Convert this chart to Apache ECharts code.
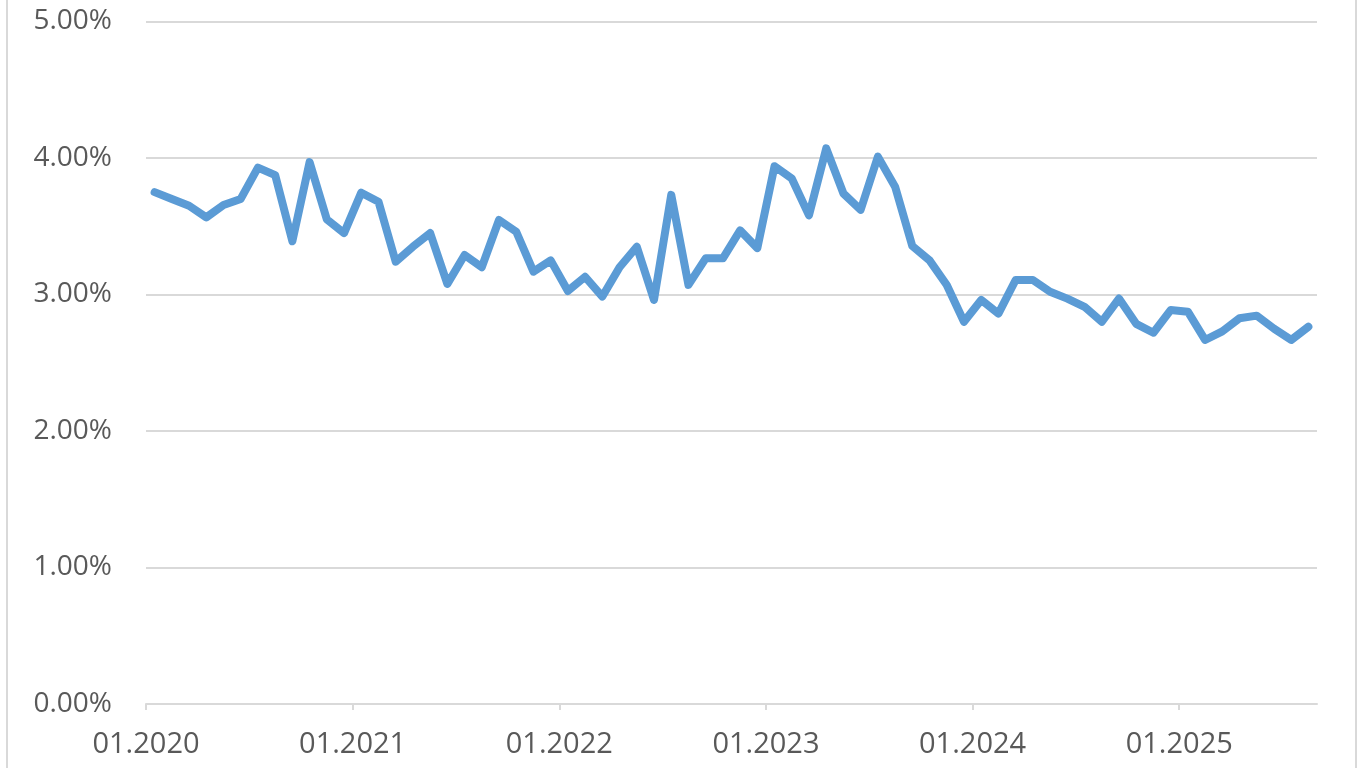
<!DOCTYPE html>
<html>
<head>
<meta charset="utf-8">
<script src="https://cdn.jsdelivr.net/npm/echarts@6/dist/echarts.min.js"></script>
<style>
html,body{margin:0;padding:0;background:#fff;width:1366px;height:768px;overflow:hidden;}
#frame{position:absolute;left:6px;top:-10px;width:1351px;height:800px;border-left:2px solid #d9d9d9;border-right:2px solid #d9d9d9;box-sizing:border-box;}
#chart{position:absolute;left:0;top:0;width:1366px;height:768px;}
</style>
</head>
<body>
<div id="frame"></div>
<div id="chart"></div>
<script>
// Month labels 01.2020 .. 08.2025
const years = [2020, 2021, 2022, 2023, 2024, 2025];
const categories = [];
years.forEach(y => { for (let m = 1; m <= 12; m++) { if (y === 2025 && m > 8) break; categories.push((m < 10 ? '0' + m : '' + m) + '.' + y); } });

// Values in percent
const values = [
  3.75, 3.70, 3.65, 3.565, 3.655, 3.70, 3.93, 3.875, 3.39, 3.97, 3.55, 3.45,
  3.746, 3.68, 3.24, 3.35, 3.45, 3.077, 3.29, 3.20, 3.546, 3.46, 3.167, 3.25,
  3.026, 3.13, 2.985, 3.20, 3.35, 2.96, 3.73, 3.07, 3.265, 3.265, 3.47, 3.34,
  3.94, 3.85, 3.58, 4.07, 3.74, 3.62, 4.01, 3.79, 3.355, 3.25, 3.07, 2.80,
  2.96, 2.86, 3.106, 3.106, 3.02, 2.97, 2.91, 2.80, 2.97, 2.785, 2.72, 2.886,
  2.874, 2.667, 2.73, 2.826, 2.845, 2.75, 2.667, 2.764
];

const yTicks = [0, 1, 2, 3, 4, 5];

const chart = echarts.init(document.getElementById('chart'));
const textColor = '#595959';
const font = '"Open Sans", "DejaVu Sans", sans-serif';
chart.setOption({
  animation: false,
  grid: { left: 146, right: 49, top: 21.5, bottom: 64, containLabel: false },
  xAxis: {
    type: 'value',
    min: 0,
    max: categories.length,
    interval: 12,
    axisLine: { show: true, lineStyle: { color: '#d9d9d9', width: 2 } },
    axisTick: { show: true, length: 6, lineStyle: { color: '#d9d9d9', width: 2 } },
    splitLine: { show: false },
    axisLabel: {
      color: textColor, fontFamily: font, fontSize: 29, margin: 26,
      showMaxLabel: false,
      formatter: v => categories[v] !== undefined ? categories[v] : ''
    }
  },
  yAxis: {
    type: 'value',
    min: yTicks[0],
    max: yTicks[yTicks.length - 1],
    interval: 1,
    axisLine: { show: false },
    axisTick: { show: false },
    splitLine: { show: true, lineStyle: { color: '#d9d9d9', width: 2 } },
    axisLabel: {
      color: textColor, fontFamily: font, fontSize: 28, margin: 34,
      formatter: v => v.toFixed(2) + '%'
    }
  },
  series: [{
    type: 'line',
    data: values.map((v, i) => [i + 0.5, v]),
    symbol: 'none',
    lineStyle: { color: '#5b9bd5', width: 8, join: 'round', cap: 'round' },
    itemStyle: { color: '#5b9bd5' }
  }]
});
</script>
</body>
</html>
